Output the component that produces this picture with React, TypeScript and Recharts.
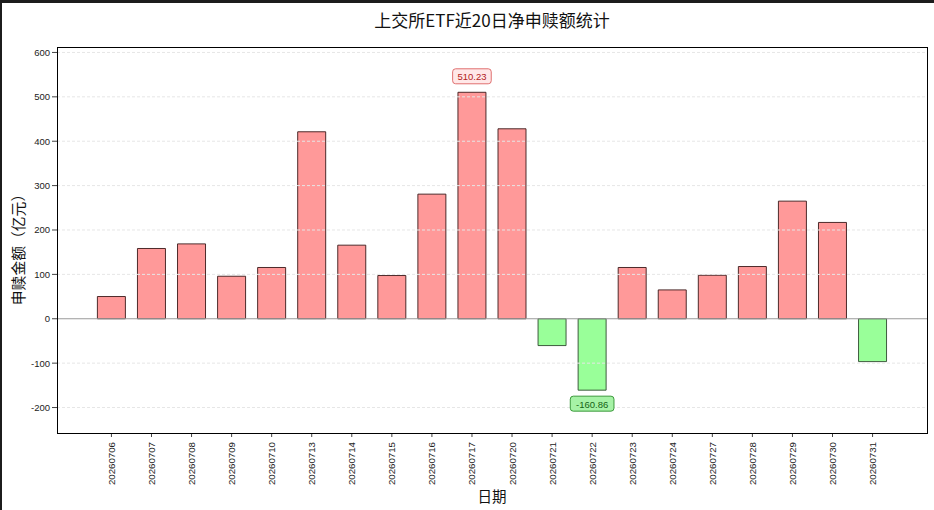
import React from 'react';
import { BarChart, Bar, XAxis, YAxis, ReferenceLine, Cell, LabelList } from 'recharts';

const dates = [
  '20260706', '20260707', '20260708', '20260709', '20260710',
  '20260713', '20260714', '20260715', '20260716', '20260717',
  '20260720', '20260721', '20260722', '20260723', '20260724',
  '20260727', '20260728', '20260729', '20260730', '20260731',
];

const netFlows = [
  50.1, 158.3, 168.7, 95.8, 115.5,
  421.3, 165.8, 97.4, 280.8, 510.23,
  428.0, -60.4, -160.86, 115.5, 65.0,
  98.0, 117.7, 265.0, 217.0, -96.5,
];

const yTicks = [-200, -100, 0, 100, 200, 300, 400, 500, 600];

const data = dates.map((d, i) => ({ date: d, value: netFlows[i] }));
const maxVal = Math.max(...netFlows);
const minVal = Math.min(...netFlows);
const yDomain = [minVal * 1.6, maxVal * 1.2];

const CJK = '"Noto Sans CJK SC", "Noto Sans", sans-serif';
const TICKFONT = '"Liberation Sans", "DejaVu Sans", sans-serif';

const XTick = (props: any) => {
  const { x, y, payload } = props;
  return (
    <text
      transform={`translate(${x}, ${y + 3}) rotate(-90)`}
      textAnchor="end"
      dominantBaseline="central"
      fontSize={9.7}
      fontFamily={TICKFONT}
      fill="#222"
    >
      {payload.value}
    </text>
  );
};

const ExtremeLabel = (props: any) => {
  const { x, y, width, height, value } = props;
  if (value !== maxVal && value !== minVal) return null;
  const cx = Number(x) + Number(width) / 2;
  const top = Math.min(Number(y), Number(y) + Number(height));
  const bottom = Math.max(Number(y), Number(y) + Number(height));
  const isMax = value === maxVal;
  const cy = isMax ? top - 16 : bottom + 13.5;
  const text = Number(value).toFixed(2);
  const w = text.length * 5.1 + 8;
  return (
    <g>
      <rect
        x={cx - w / 2}
        y={cy - 7.5}
        width={w}
        height={15}
        rx={3}
        ry={3}
        fill={isMax ? '#ffe8e8' : '#a6f2a6'}
        stroke={isMax ? '#e07070' : '#3c9a3c'}
        strokeWidth={1}
      />
      <text
        x={cx}
        y={cy + 0.5}
        textAnchor="middle"
        dominantBaseline="central"
        fontSize={9.5}
        fontFamily={TICKFONT}
        fill={isMax ? '#b22222' : '#146414'}
      >
        {text}
      </text>
    </g>
  );
};

export default function App() {
  return (
    <div style={{ position: 'absolute', left: 0, top: 0, width: 934, height: 510, background: '#1c1c1c' }}>
      <div style={{ position: 'absolute', left: 2, top: 3, width: 932, height: 507, background: '#fff' }} />
      <div style={{ position: 'absolute', left: 0, top: 0 }}>
        <BarChart
          width={934}
          height={510}
          data={data}
          margin={{ top: 47, right: 7, bottom: 17, left: 7 }}
        >
          <XAxis
            dataKey="date"
            height={60}
            interval={0}
            padding={{ left: 34.4, right: 34.4 }}
            tick={<XTick />}
            tickSize={4}
            tickLine={{ stroke: '#444' }}
            axisLine={false}
          />
          <YAxis
            type="number"
            domain={yDomain}
            ticks={yTicks}
            width={50}
            tickSize={5}
            tickLine={{ stroke: '#444' }}
            axisLine={false}
            tick={{ fontSize: 9.5, fill: '#222', fontFamily: TICKFONT }}
          />
          {yTicks.filter((t) => t !== 0).map((t) => (
            <ReferenceLine key={t} y={t} stroke="#e6e6e6" strokeDasharray="3 2" strokeWidth={1} />
          ))}
          <ReferenceLine y={0} stroke="#9a9a9a" strokeWidth={1} />
          <Bar
            dataKey="value"
            barSize={28}
            strokeWidth={0.9}
            isAnimationActive={false}
          >
            {data.map((d, i) => (
              <Cell key={i} fill={d.value >= 0 ? '#ff9999' : '#99ff99'} stroke={d.value >= 0 ? '#3a1818' : '#2e4a2e'} />
            ))}
            <LabelList dataKey="value" content={<ExtremeLabel />} />
          </Bar>
        </BarChart>
      </div>
      <div
        style={{
          position: 'absolute', left: 57, top: 46.5, width: 869, height: 385.5,
          border: '1.2px solid #000', pointerEvents: 'none',
        }}
      />
      <div
        style={{
          position: 'absolute', left: 492, top: 19, transform: 'translate(-50%, -50%)',
          fontFamily: CJK, fontSize: 17, color: '#111', whiteSpace: 'nowrap', lineHeight: 1,
        }}
      >
        上交所ETF近20日净申赎额统计
      </div>
      <div
        style={{
          position: 'absolute', left: 18, top: 246, transform: 'translate(-50%, -50%) rotate(-90deg)',
          fontFamily: CJK, fontSize: 14.8, color: '#111', whiteSpace: 'nowrap', lineHeight: 1,
        }}
      >
        申赎金额（亿元）
      </div>
      <div
        style={{
          position: 'absolute', left: 492, top: 496, transform: 'translate(-50%, -50%)',
          fontFamily: CJK, fontSize: 14.5, color: '#111', whiteSpace: 'nowrap', lineHeight: 1,
        }}
      >
        日期
      </div>
    </div>
  );
}
